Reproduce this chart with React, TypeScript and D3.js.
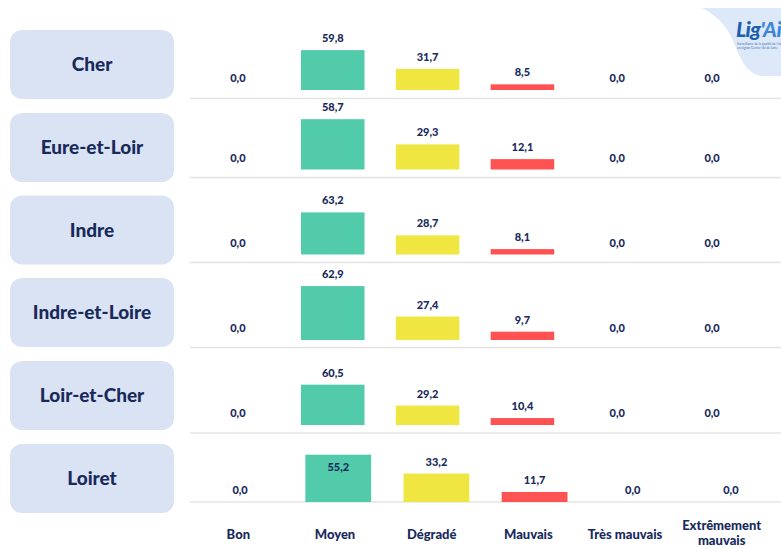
import React from "react";
import * as d3 from "d3";

const categories = ["Bon", "Moyen", "Dégradé", "Mauvais", "Très mauvais", "Extrêmement mauvais"];
const departments = ["Cher", "Eure-et-Loir", "Indre", "Indre-et-Loire", "Loir-et-Cher", "Loiret"];
const cherValues = [0.0, 59.8, 31.7, 8.5, 0.0, 0.0];
const eureValues = [0.0, 58.7, 29.3, 12.1, 0.0, 0.0];
const indreValues = [0.0, 63.2, 28.7, 8.1, 0.0, 0.0];
const indreLoireValues = [0.0, 62.9, 27.4, 9.7, 0.0, 0.0];
const loirCherValues = [0.0, 60.5, 29.2, 10.4, 0.0, 0.0];
const loiretValues = [0.0, 55.2, 33.2, 11.7, 0.0, 0.0];
const seriesValues = [cherValues, eureValues, indreValues, indreLoireValues, loirCherValues, loiretValues];
const axisMax = [90, 70, 90, 70, 90, 70];

const colors = ["#52cbab", "#52cbab", "#efe642", "#ff5252", "#ff5252", "#ff5252"];
const NAVY = "#182a5c";
const FONT = "Lato, 'Open Sans', sans-serif";

// layout per row
const rowBase = [90, 169.5, 254.5, 340, 425, 502];
const rowGrid = [98.5, 177.5, 262.5, 347.5, 433, 502];
const rowRanges: [number, number][] = [
  [190.5, 759.5], [190.5, 759.5], [190.5, 759.5], [190.5, 759.5], [190.5, 759.5], [191, 780],
];
const boxTop = [30, 113, 195.5, 278, 361, 444];
const PLOT_H = 60;

const fmt = (v: number) => v.toFixed(1).replace(".", ",");

export default function App() {
  const labelX = d3.scaleBand<string>().domain(categories).range([190, 770]);
  return (
    <svg width={781} height={549} style={{ position: "absolute", left: 0, top: 0, background: "#fff" }}
      fontFamily={FONT}>
      {/* logo blob */}
      <path d="M702,8 L781,8 L781,76 L762,76 C748,74 742,62 737,50 C731,35 725,20 702,8 Z" fill="#dde9f8" />
      <text x={736} y={37} fontSize={21} fontWeight={900} fontStyle="italic" fill="#1c5fb0" letterSpacing={-0.5}>
        Lig<tspan fill="#3f86d6">'Ai</tspan>
      </text>
      <text x={737} y={45} fontSize={3.2} fill="#3f70b5">Surveillance de la qualité de l'air</text>
      <text x={737} y={49} fontSize={3.2} fill="#3f70b5">en région Centre-Val de Loire</text>

      {departments.map((dep, r) => {
        const x = d3.scaleBand<string>().domain(categories).range(rowRanges[r]).paddingInner(0.33).paddingOuter(0.165);
        const y = d3.scaleLinear().domain([0, axisMax[r]]).range([rowBase[r], rowBase[r] - PLOT_H]);
        const vals = seriesValues[r];
        return (
          <g key={dep}>
            <rect x={10} y={boxTop[r]} width={164} height={69} rx={12} fill="#dae3f3" />
            <text x={92} y={boxTop[r] + 34.5} dy="0.35em" textAnchor="middle" fontSize={19} fontWeight={900} fill={NAVY}>
              {dep}
            </text>
            <line x1={190} x2={781} y1={rowGrid[r]} y2={rowGrid[r]} stroke="#e4e4e4" strokeWidth={1.5} />
            {categories.map((c, i) => {
              const v = vals[i];
              const top = y(v);
              const bx = x(c)!;
              const inside = r === 5 && i === 1;
              return (
                <g key={c}>
                  {v > 0 && (
                    <rect x={bx} y={top} width={x.bandwidth()} height={rowBase[r] - top} fill={colors[i]} />
                  )}
                  <text x={bx + x.bandwidth() / 2} y={inside ? top + 16 : top - 8} textAnchor="middle"
                    fontSize={11} fontWeight={900} fill={NAVY}>
                    {fmt(v)}
                  </text>
                </g>
              );
            })}
          </g>
        );
      })}

      {categories.map((c) => {
        const cx = labelX(c)! + labelX.bandwidth() / 2;
        const words = c === "Extrêmement mauvais" ? ["Extrêmement", "mauvais"] : [c];
        return (
          <text key={c} x={cx} textAnchor="middle" fontSize={13} fontWeight={900} fill={NAVY}>
            {words.length === 1 ? (
              <tspan x={cx} y={539}>{c}</tspan>
            ) : (
              words.map((w, k) => (
                <tspan key={w} x={cx} y={530 + k * 15}>{w}</tspan>
              ))
            )}
          </text>
        );
      })}
    </svg>
  );
}
